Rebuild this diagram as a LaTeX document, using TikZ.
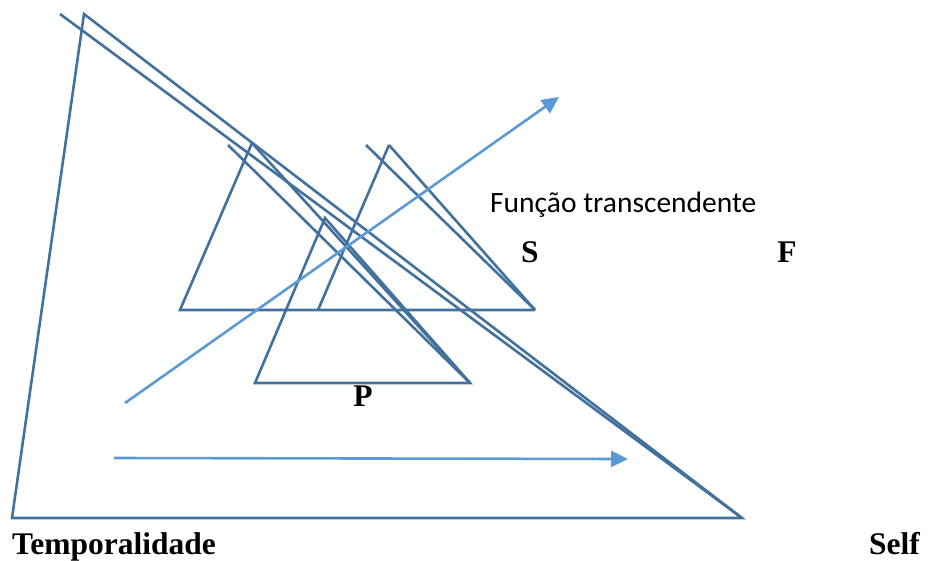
\documentclass[tikz,border=0pt]{standalone}
\usepackage{fontspec}
\setmainfont{Liberation Serif}
\newfontfamily\calibrifont{Carlito}
\usetikzlibrary{arrows.meta}
\definecolor{edge1}{HTML}{41719C}
\definecolor{arrow1}{HTML}{5B9BD5}

\begin{document}
\begin{tikzpicture}[x=1pt,y=-1pt]
\useasboundingbox (0,0) rectangle (929,560);
\tikzset{
  side/.style={draw=edge1, line width=2.6pt, line join=miter},
  flow/.style={draw=arrow1, line width=2.6pt, -{Triangle[length=17pt,width=16pt]}},
  lbl/.style={inner sep=0pt, anchor=base, font=\bfseries\fontsize{31.5}{38}\selectfont}
}
% big triangle
\coordinate (bigtop) at (84,14);
\coordinate (bigleft) at (12,518);
\coordinate (bigright) at (742,518);
\coordinate (bigextra) at (60,14);
\draw[side] (bigtop) -- (bigleft) -- (bigright) -- cycle;
\draw[side] (bigextra) -- (bigright);
% small triangles
\coordinate (stop) at (252,143);
\coordinate (sextra) at (228,145);
\coordinate (sleft) at (180,310);
\coordinate (ftop) at (389,145);
\coordinate (fextra) at (366,145);
\coordinate (fleft) at (318,310);
\coordinate (fright) at (535,310);
\coordinate (ptop) at (325,218);
\coordinate (pleft) at (255,383);
\coordinate (pright) at (470,383);
\draw[side] (stop) -- (sleft) -- (fright);
\draw[side] (stop) -- (pright);
\draw[side] (sextra) -- (pright);
\draw[side] (ftop) -- (fleft);
\draw[side] (ftop) -- (fright);
\draw[side] (fextra) -- (fright);
\draw[side] (ptop) -- (pleft) -- (pright) -- cycle;
% arrows
\coordinate (diagstart) at (125,403);
\coordinate (diagend) at (559,97);
\coordinate (timestart) at (114,458);
\coordinate (timeend) at (628,459);
\draw[flow] (diagstart) -- (diagend);
\draw[flow] (timestart) -- (timeend);
% labels
\node[inner sep=0pt, anchor=base west, font=\calibrifont\fontsize{29.5}{35}\selectfont] (funcao) at (490,212) {Função transcendente};
\node[lbl] (s) at (530,262) {S};
\node[lbl] (f) at (787,262) {F};
\node[lbl] (p) at (363,406) {P};
\node[lbl, anchor=base west] (temp) at (12,554) {Temporalidade};
\node[lbl, anchor=base east] (self) at (920,554) {Self};
\end{tikzpicture}
\end{document}
